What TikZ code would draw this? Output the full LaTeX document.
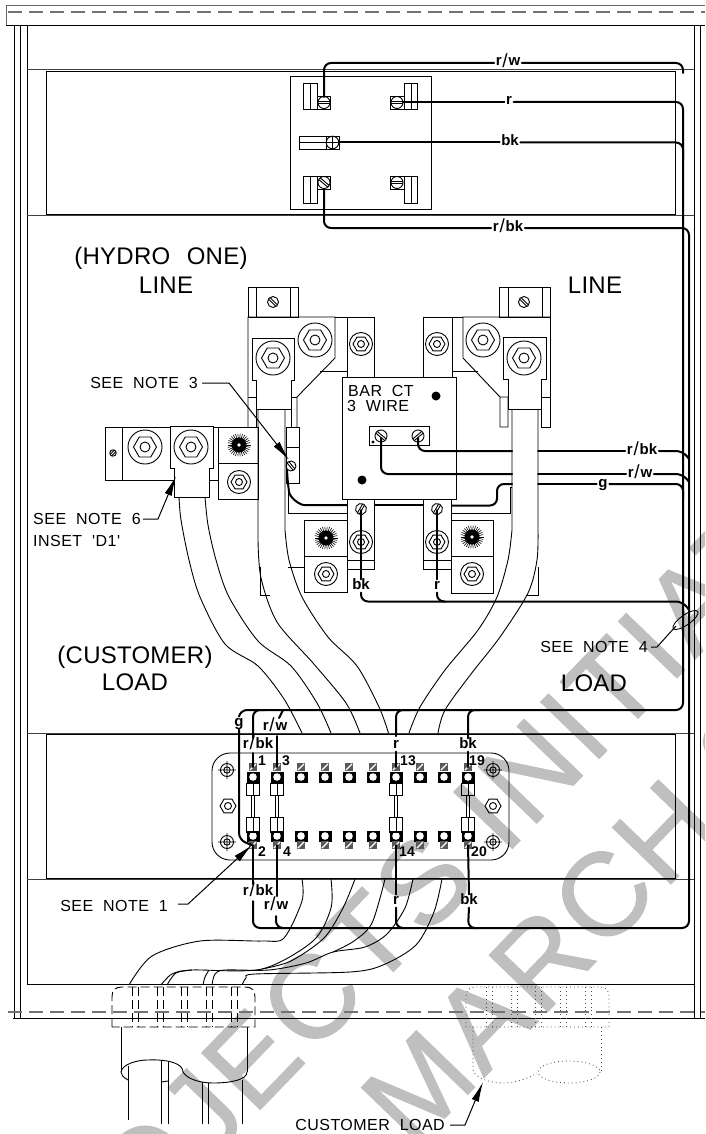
\documentclass[tikz,border=0pt]{standalone}
\usepackage{fontspec}
\usepackage{graphicx}
\setmainfont{Liberation Sans}
\newfontfamily\cadfont[LetterSpace=3,WordSpace=2]{Liberation Sans}
\newfontfamily\bigfont[LetterSpace=1,WordSpace=2.4]{Liberation Sans}
\newfontfamily\markfont[LetterSpace=3,FakeBold=1]{Liberation Sans}
\usetikzlibrary{arrows.meta}
\definecolor{markgray}{gray}{0.75}
\definecolor{fadeline}{gray}{0.45}
\newcommand{\wsl}{\kern0.8pt\raisebox{-1.8pt}{\fontsize{19}{19}\selectfont\mdseries /}\kern0.8pt}
\tikzset{
  thin line/.style={line width=0.9pt,black},
  wire/.style={line width=2pt,black,rounded corners=7pt,line cap=round},
  band/.style={line width=1pt,black!75},
  dashrule/.style={line width=1.5pt,fadeline,dash pattern=on 14pt off 7pt},
  ghost/.style={line width=0.8pt,black!70,dash pattern=on 0.9pt off 3pt},
  cutline/.style={line width=0.9pt,black,dash pattern=on 9pt off 4pt},
  leader/.style={line width=1pt,black},
  tiparrow/.style={-{Latex[length=20pt,width=7.5pt]},line width=1pt,black},
  lab/.style={inner sep=1.5pt,text height=8pt,text depth=2pt,font=\fontsize{15}{15}\selectfont\bfseries},
  note/.style={inner sep=0pt,font=\fontsize{16}{17}\selectfont\cadfont},
  big/.style={inner sep=0pt,font=\fontsize{24}{27}\selectfont\bigfont},
  watermark/.style={inner sep=0pt,anchor=base west,rotate=46,markgray,font=\fontsize{118}{118}\selectfont\markfont},
  num/.style={inner sep=0pt,font=\fontsize{14}{14}\selectfont\bfseries}
}
\newcommand{\hexnut}[3]{\draw[thin line] (#1,#2) +(0:#3) -- +(60:#3) -- +(120:#3) -- +(180:#3) -- +(240:#3) -- +(300:#3) -- cycle;}
\newcommand{\bolt}[5]{\draw[thin line] (#1,#2) circle (#3) (#1,#2) circle (#5); \hexnut{#1}{#2}{#4}}
\newcommand{\slotscrew}[4]{\begin{scope}[shift={(#1,#2)},rotate=#4]
  \draw[thin line] (0,0) circle (#3);
  \draw[thin line] (-#3,1.1) -- (#3,1.1) (-#3,-1.1) -- (#3,-1.1);
\end{scope}}
\newcommand{\starbolt}[2]{\begin{scope}[shift={(#1,#2)}]
  \foreach \a in {0,12,...,348} {\draw[line width=0.6pt,black] (0,0) -- (\a:11.5);}
  \fill[black] (0,0) circle (7.5);
  \fill[white] (0,0) circle (1.8);
\end{scope}}
\newcommand{\target}[2]{\draw[thin line] (#1,#2) circle (6.5) (#1,#2) circle (3.2) (#1-9,#2) -- (#1+9,#2) (#1,#2-9) -- (#1,#2+9);}
\newcommand{\blockterm}[3]{%
  \fill[black] (#1-6.5,#2-5.5) rectangle (#1+6.5,#2+5.5);
  \fill[white] (#1,#2) circle (3.8);
  \fill[black!65] (#1-3.6,#3-3.6) rectangle (#1+3.6,#3+3.6);
  \draw[white,line width=1.1pt] (#1-3,#3+3) -- (#1+3,#3-3);}
\newcommand{\fuse}[1]{\draw[thin line] (#1-6.5,783) rectangle (#1+6.5,795) (#1,783) -- (#1,795)
   (#1-1.5,795) -- (#1-1.5,817) (#1+1.5,795) -- (#1+1.5,817)
   (#1-6.5,817) rectangle (#1+6.5,832) (#1,817) -- (#1,832);}
\begin{document}
\begin{tikzpicture}[x=1pt,y=-1pt]
\useasboundingbox (0,0) rectangle (705,1134);
\fill[white] (0,0) rectangle (705,1134);
% watermark
\begin{scope}
\clip (0,0) rectangle (705,1134);
\node[watermark] (markone) at (25,1353) {PROJECTS INITIATED};
\node[watermark] (marktwo) at (413,1151) {MARCH 2};
\end{scope}
% top band
\draw[band,line width=0.9pt,black!60] (705,5) -- (6,5) -- (6,25);
\draw[thin line] (6,25) -- (705,25);
\draw[dashrule] (8,12) -- (705,12);
% cabinet verticals
\draw[thin line] (14,25) -- (14,1018) (20,25) -- (20,1018) (27,25) -- (27,984);
\draw[thin line] (694,25) -- (694,1018) (700,25) -- (700,1018);
\draw[thin line] (13,1018) -- (705,1018);
\draw[thin line] (27,984) -- (694,984);
\draw[dashrule] (8,1012) -- (705,1012);
% upper and lower panels
\foreach \t/\b in {70/215,733/879} {
  \draw[band] (27,\t) -- (694,\t) (27,\b) -- (694,\b);
  \draw[thin line] (46,\t+1) rectangle (675,\b-0.5);
}
% meter base
\draw[thin line] (290.5,76) rectangle (431,209);
\draw[thin line] (303.5,83) rectangle (317,109) (310,83) -- (310,109) (317,96) rectangle (330.5,109);
\slotscrew{324}{102.5}{6}{0}
\draw[thin line] (404,83) rectangle (417,109) (411,83) -- (411,109) (390,96) rectangle (404,109);
\slotscrew{397}{102.5}{6}{0}
\draw[thin line] (299,136) rectangle (326,149) (299,142.5) -- (326,142.5) (326,136) rectangle (339.5,149);
\draw[thin line] (332.5,142.5) circle (6.3) (326,142.5) -- (339.5,142.5) (332.5,136) -- (332.5,149);
\draw[thin line] (303.5,176) rectangle (317,203) (310,176) -- (310,203) (317,176) rectangle (330.5,189);
\slotscrew{324}{182.5}{6}{-40}
\draw[thin line] (404,176) rectangle (417,203) (411,176) -- (411,203) (390,176) rectangle (404,189);
\slotscrew{397}{182.5}{6}{0}
% left line lug
\draw[thin line] (248,287) rectangle (298,317) (256,287) -- (256,317) (290,287) -- (290,317);
\slotscrew{273}{302}{5.5}{-45}
\draw[thin line] (248,427) -- (248,317) -- (335,317) -- (335,358) -- (297,397) -- (297,427);
\draw[thin line] (248,397) -- (256,397) -- (256,427) (291,397) -- (297,397) (291,397) -- (291,427) (248,427) -- (256,427);
\draw[thin line] (252,338) -- (294,338) -- (294,380) -- (291,380) -- (291,409) -- (256,409) -- (256,380) -- (252,380) -- cycle;
\bolt{273}{358}{17}{11.5}{5}
\bolt{315}{340}{17}{11.5}{5}
\draw[thin line] (335,317) -- (347,317) (320,371) -- (347,371);
\draw[thin line] (347,377) -- (347,317) -- (374,317) -- (374,377);
\bolt{361}{344}{11.5}{8}{3.5}
% right line lug
\draw[thin line] (499,287) rectangle (550,317) (508,287) -- (508,317) (542,287) -- (542,317);
\slotscrew{524}{302}{5.5}{-45}
\draw[thin line] (550,317) -- (550,427) -- (541,427) -- (541,397) -- (550,397);
\draw[thin line] (550,317) -- (463,317) -- (463,358) -- (500,397) -- (500,427) -- (508,427) -- (508,397) -- (500,397);
\draw[thin line] (503,337) -- (546,337) -- (546,379) -- (541,379) -- (541,409) -- (508,409) -- (508,379) -- (503,379) -- cycle;
\bolt{524}{358}{17}{11.5}{5}
\bolt{483}{340}{17}{11.5}{5}
\draw[thin line] (452,317) -- (463,317) (452,371) -- (478,371);
\draw[thin line] (423,377) -- (423,317) -- (452,317) -- (452,377);
\bolt{437}{344}{11.5}{8}{3.5}
% bar CT
\draw[thin line] (342,377) rectangle (456,499);
\fill[black] (436,396) circle (4.5) (362,480) circle (4.5);
\node[note,anchor=west] (barct) at (348,391) {BAR CT};
\node[note,anchor=west] (wire3) at (347,406) {3 WIRE};
\draw[thin line] (369,426) rectangle (429,445);
\slotscrew{381}{436}{6}{-40}
\slotscrew{418}{436}{6}{40}
\fill[black] (373,442) circle (1.6);
% lugs below CT
\draw[thin line] (347,499) -- (347,569) -- (374,569) -- (374,499) (347,560) -- (374,560);
\draw[thin line] (423,499) -- (423,569) -- (451,569) -- (451,499) (423,560) -- (451,560);
\slotscrew{361}{509}{5.5}{60}
\slotscrew{437}{509}{5.5}{60}
\bolt{361}{542}{11.5}{8}{3.5}
\bolt{437}{542}{11.5}{8}{3.5}
% left bar with customer lug
\draw[thin line] (170,427) -- (105,427) -- (105,480) -- (174,480) (122,427) -- (122,480) (213,427) -- (218,427) (209,480) -- (218,480);
\slotscrew{113}{453}{3.2}{45}
\draw[thin line] (170,426) -- (213,426) -- (213,468) -- (209,468) -- (209,497) -- (174,497) -- (174,468) -- (170,468) -- cycle;
\bolt{145}{447}{17}{11.5}{5}
\bolt{191}{447}{17}{11.5}{5}
\draw[thin line] (218,427) rectangle (258,499) (218,463) -- (258,463);
\starbolt{239}{445}
\bolt{239}{482}{11.5}{8}{3.5}
% small strip
\draw[thin line] (286,427) rectangle (299,483) (286,447) -- (299,447);
\slotscrew{291}{466}{5}{-50}
\draw[thin line] (288,483) -- (288,513) -- (347,513) (452,513) -- (510,513) -- (510,487) -- (512,487);
\draw[thin line] (288,567) -- (304,567) (260,567) -- (260,595) -- (270,595) (538,567) -- (538,595) -- (527,595);
% lower blocks
\draw[thin line] (304,520) rectangle (347,592) (304,556) -- (347,556);
\starbolt{326}{538}
\bolt{326}{574}{11.5}{8}{3.5}
\draw[thin line] (451,520) rectangle (493,593) (451,556) -- (493,556);
\starbolt{472}{537}
\bolt{472}{574}{11.5}{8}{3.5}
% cables top
\draw[thin line] plot[smooth] coordinates {(179,497) (181,520) (189,560) (200,597) (225,644) (258,666) (284,699) (302,733)};
\draw[thin line] plot[smooth] coordinates {(205,497) (208,525) (216,560) (229,597) (258,641) (291,666) (317,703) (331,733)};
\draw[thin line] (258,409) -- (258,540) plot[smooth] coordinates {(258,540) (261,578) (277,622) (313,663) (346,703) (360,733)};
\draw[thin line] (285,409) -- (285,530) plot[smooth] coordinates {(285,530) (289,560) (302,597) (328,637) (357,666) (379,707) (388.5,733)};
\draw[thin line] (512,409) -- (512,530) plot[smooth] coordinates {(512,530) (508,560) (497,597) (478,630) (445,670) (420,707) (409,733)};
\draw[thin line] (538,409) -- (538,530) plot[smooth] coordinates {(538,530) (537,560) (528,593) (500,637) (471,674) (445,710) (438,733)};
% terminal block
\draw[thin line,rounded corners=18pt] (212,753) rectangle (509,860);
\target{227}{770} \target{227}{842} \target{493}{770} \target{493}{842}
\hexnut{228}{806}{8} \draw[thin line] (228,806) circle (3.5);
\hexnut{493}{806}{8} \draw[thin line] (493,806) circle (3.5);
\foreach \x in {253,277,301,325,349,373,396,420,444,468} {\blockterm{\x}{777}{767}\blockterm{\x}{836}{845}}
\foreach \x in {253,277,396,468} {\fuse{\x}}
\node[num] (n1) at (262,761) {1};
\node[num] (n3) at (286,761) {3};
\node[num] (n13) at (408,761) {13};
\node[num] (n19) at (477,761) {19};
\node[num] (n2) at (262,852) {2};
\node[num] (n4) at (287,852) {4};
\node[num] (n14) at (407,852) {14};
\node[num] (n20) at (479,852) {20};
% wire labels
\node[lab] (lrwa) at (508,63) {r\wsl w};
\node[lab] (lra) at (509,102) {r};
\node[lab] (lbka) at (510,142.5) {bk};
\node[lab] (lrbka) at (508,228) {r\wsl bk};
\node[lab] (lrbkb) at (642,451) {r\wsl bk};
\node[lab] (lrwb) at (640,474) {r\wsl w};
\node[lab] (lgb) at (603,484) {g};
\node[lab] (lbkc) at (361,586) {bk};
\node[lab] (lrc) at (437,586) {r};
\node[lab] (lgd) at (239,723) {g};
\node[lab] (lrwd) at (275,727) {r\wsl w};
\node[lab] (lrbkd) at (258,745) {r\wsl bk};
\node[lab] (lrd) at (396,745) {r};
\node[lab] (lbkd) at (468,745) {bk};
\node[lab] (lrbke) at (258,892) {r\wsl bk};
\node[lab] (lrwe) at (276,906) {r\wsl w};
\node[lab] (lre) at (396,901) {r};
\node[lab] (lbke) at (469,901) {bk};
% wires upper
\draw[wire] (324,97) -- (324,63) -- (lrwa.west);
\draw[wire] (lrwa.east) -- (683,63) -- (683,73);
\draw[wire] (403,102) -- (lra.west);
\draw[wire] (lra.east) -- (683,102) -- (683,710) -- (240,710) -- (lgd.north);
\draw[wire] (lgd.south) -- (239,840) -- (252,845);
\draw[wire] (339,142.5) -- (lbka.west);
\draw[wire] (lbka.east) -- (683,142.5) -- (683,160);
\draw[wire] (324,189) -- (324,228) -- (lrbka.west);
\draw[wire] (lrbka.east) -- (689,228) -- (689,928) -- (253,928) -- (253,901);
% CT secondary wires
\draw[wire] (418,438) -- (418,451) -- (512,451);
\draw[wire] (538,451) -- (lrbkb.west);
\draw[wire] (lrbkb.east) -- (683,451) -- (689,459);
\draw[wire] (381,438) -- (381,474) -- (512,474);
\draw[wire] (538,474) -- (lrwb.west);
\draw[wire] (lrwb.east) -- (683,474) -- (689,482);
\draw[wire] (287,470) -- (288,485) .. controls (290,498) and (300,505) .. (311,505) -- (347,505);
\draw[line width=2pt] (374,505) -- (423,505);
\draw[wire] (452,505.5) -- (497,505.5) -- (497,484) -- (512,484);
\draw[wire] (538,484) -- (lgb.west);
\draw[wire] (lgb.east) -- (683,484) -- (683,500);
% wires from CT lugs
\draw[wire] (361,510) -- (lbkc.north);
\draw[wire] (lbkc.south) -- (361,601.5) -- (683,601.5) -- (689,610);
\draw[wire] (437,510) -- (lrc.north);
\draw[wire] (lrc.south) -- (437,601.5) -- (445,601.5);
% bus wires to block
\draw[wire] (480,710) -- (468,710) -- (lbkd.north);
\draw[wire] (lbkd.south) -- (468,767);
\draw[wire] (410,710) -- (396,710) -- (396,736);
\draw[wire] (lrd.south) -- (396,767);
\draw[wire] (265,710) -- (253,710) -- (253,738);
\draw[wire] (253,753) -- (253,767);
\draw[wire] (283,710) -- (279,718);
\draw[wire] (277,736) -- (277,767);
% lower wires
\draw[wire] (253,845) -- (253,884);
\draw[wire] (277,845) -- (277,896);
\draw[wire] (276,916) -- (276,928) -- (285,928);
\draw[wire] (396,845) -- (lre.north);
\draw[wire] (lre.south) -- (396,928) -- (405,928);
\draw[wire] (468,845) -- (lbke.north);
\draw[wire] (lbke.south) -- (468,928) -- (478,928);
% lower cables
\draw[thin line] plot[smooth] coordinates {(302,879) (302,901) (284,938) (262,941) (200,941) (152,956) (129,985)};
\draw[thin line] plot[smooth] coordinates {(331,879) (331,908) (313,941) (262,969) (192,970) (172,974) (161,985)};
\draw[thin line] plot[smooth] coordinates {(355,879) (343,908) (324,938) (291,961) (262,969)};
\draw[thin line] plot[smooth] coordinates {(385,879) (372,923) (354,941) (333,952)};
\draw[thin line] plot[smooth] coordinates {(413,879) (405,908) (387,934) (365,947) (333,952) (306,963) (269,970) (225,970) (215,974) (212,985)};
\draw[thin line] plot[smooth] coordinates {(192,970) (176,973) (167,985)};
\draw[thin line] plot[smooth] coordinates {(209,970) (205,977) (203,985)};
\draw[thin line] plot[smooth] coordinates {(442,879) (434,912) (416,945) (383,965) (350,972) (255,974) (246,978) (242,985)};
% meter can (hidden)
\draw[cutline] (112,1027) -- (112,997) .. controls (112,990) and (115,987) .. (122,987) -- (245,987) .. controls (252,987) and (255,990) .. (255,997) -- (255,1027) -- cycle;
\foreach \x in {132,138,157,163,181,187,206,212,231,237} {\draw[cutline] (\x,987) -- (\x,1027);}
\draw[thin line] (121,1027) -- (121,1072) (247,1027) -- (247,1072);
\draw[thin line] (128,1080) .. controls (123,1077) and (121,1075) .. (121,1072) .. controls (122,1064) and (138,1060) .. (147,1060) .. controls (170,1059) and (183,1064) .. (183,1072) .. controls (187,1079) and (200,1083) .. (213,1083) .. controls (230,1083) and (247,1080) .. (247,1072);
\draw[thin line] (161,1082) -- (168,1081);
\draw[thin line] (128,1066) -- (128,1120) (161,1060) -- (161,1124) (168,1061) -- (168,1124) (202,1082) -- (202,1124) (208,1083) -- (208,1124) (242,1080) -- (242,1124);
% customer load (dotted)
\draw[ghost] (466,1027) -- (466,997) .. controls (466,990) and (469,987) .. (476,987) -- (599,987) .. controls (606,987) and (609,990) .. (609,997) -- (609,1027) -- cycle;
\foreach \x in {486,492,511,517,535,541,560,566,585,591} {\draw[ghost] (\x,987) -- (\x,1027);}
\draw[ghost] (473,1027) -- (473,1070) .. controls (475,1078) and (490,1083) .. (503,1083) .. controls (515,1083) and (530,1078) .. (537,1073);
\draw[ghost] (569,1072) ellipse (31 and 11);
\draw[ghost] (601,1027) -- (601,1072);
% notes and leaders
\node[big] (hydro) at (161,258) {(HYDRO ONE)};
\node[big] (linel) at (166,285) {LINE};
\node[big] (liner) at (595,285) {LINE};
\node[big] (cust) at (135,657) {(CUSTOMER)};
\node[big] (loadl) at (135,682) {LOAD};
\node[big] (loadr) at (594,683) {LOAD};
\node[note,anchor=east] (note3) at (198,383) {SEE NOTE 3};
\coordinate (tip3) at (289,460);
\draw[tiparrow] (note3.east) ++(4,0) -- (229,383) -- (tip3);
\node[note,anchor=west] (note6) at (33,519) {SEE NOTE 6};
\node[note,anchor=west] (inset) at (33,541) {INSET 'D1'};
\coordinate (tip6) at (176,476);
\draw[tiparrow] (note6.east) ++(2,0) -- (158,519) -- (tip6);
\node[note,anchor=east] (note4) at (648,647) {SEE NOTE 4};
\draw[thin line,rotate around={35:(685.5,620)}] (685.5,620) ellipse (15 and 5);
\coordinate (ell4) at (676,626);
\draw[leader] (note4.east) ++(3,0) -- (657,647) -- (ell4);
\node[note,anchor=east] (note1) at (168,906) {SEE NOTE 1};
\coordinate (tip1) at (252,845);
\draw[tiparrow] (note1.east) ++(10,-2) -- (188,904) -- (tip1);
\node[note,anchor=east] (custload) at (445,1125) {CUSTOMER LOAD};
\coordinate (tipc) at (483,1082);
\draw[tiparrow] (custload.east) ++(5,0) -- (465,1125) -- (tipc);
\end{tikzpicture}
\end{document}
